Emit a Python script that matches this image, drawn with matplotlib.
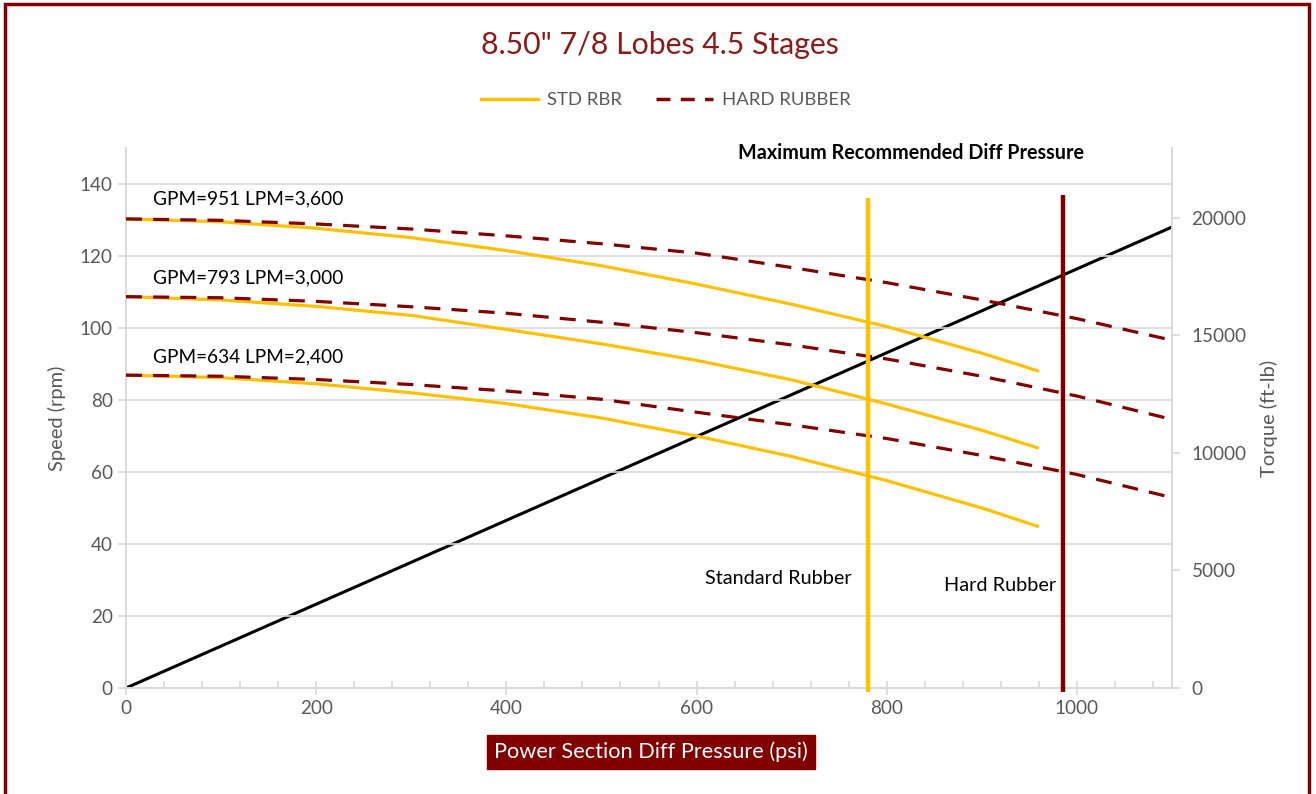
import matplotlib
matplotlib.use("Agg")
import matplotlib.pyplot as plt
from matplotlib.patches import Rectangle
from matplotlib.ticker import MultipleLocator
from matplotlib.lines import Line2D

plt.rcParams['font.family'] = ['Lato', 'DejaVu Sans']

# ---- data ----
std_psi = [0, 100, 200, 300, 400, 500, 600, 700, 800, 900, 960]
std_951 = [130.3, 129.5, 127.7, 125.1, 121.5, 117.3, 112.2, 106.6, 100.4, 93.0, 88.0]
std_793 = [108.7, 107.8, 106.0, 103.5, 99.6, 95.6, 91.0, 85.6, 78.9, 71.6, 66.6]
std_634 = [86.9, 86.2, 84.5, 82.0, 79.0, 75.0, 70.0, 64.3, 57.6, 50.0, 44.8]

hard_psi = [0, 100, 200, 300, 400, 500, 600, 700, 800, 900, 1000, 1100]
hard_951 = [130.3, 129.9, 128.9, 127.5, 125.6, 123.4, 120.8, 116.8, 112.6, 107.8, 102.6, 96.6]
hard_793 = [108.7, 108.4, 107.4, 105.9, 104.1, 101.6, 98.7, 95.3, 91.4, 86.6, 81.1, 74.6]
hard_634 = [86.9, 86.6, 85.7, 84.3, 82.5, 80.2, 76.6, 73.1, 69.3, 64.6, 59.3, 52.9]

torque_psi = [0, 1100]
torque_ftlb = [0, 19600]

max_std_psi = 780
max_hard_psi = 985
flow_labels = ["GPM=951 LPM=3,600", "GPM=793 LPM=3,000", "GPM=634 LPM=2,400"]
flow_label_y = [135.8, 113.9, 91.9]

YEL = '#FFC000'
RED = '#800000'
GRAY = '#595959'
GRID = '#D9D9D9'
TICK_FS = 13.6

fig = plt.figure(figsize=(13.16, 7.94), dpi=100)
W, H = 1316, 794

# outer border
fig.patches.append(Rectangle((5 / W, -0.05), (1309 - 5) / W, 1.05 - 4 / H,
                             transform=fig.transFigure, fill=False,
                             edgecolor=RED, linewidth=2.5))

ax = fig.add_axes([126 / W, 1 - 688 / H, (1172 - 126) / W, (688 - 148) / H])
ax2 = ax.twinx()

ax.set_xlim(0, 1100)
ax.set_ylim(0, 150)
ax2.set_ylim(0, 22960)

ax.set_zorder(ax2.get_zorder() + 1)
ax.patch.set_visible(False)

# gridlines
ax.yaxis.set_major_locator(MultipleLocator(20))
ax.grid(axis='y', color=GRID, linewidth=1.2)
ax.set_axisbelow(True)

# curves
for ys in (std_951, std_793, std_634):
    ax.plot(std_psi, ys, color=YEL, linewidth=2.3, solid_capstyle='butt', zorder=3)
for ys in (hard_951, hard_793, hard_634):
    ax.plot(hard_psi, ys, color=RED, linewidth=2.3, linestyle=(0, (5, 3.5)), zorder=4)

# torque line on secondary axis
ax2.plot(torque_psi, torque_ftlb, color='black', linewidth=2.2, zorder=2)

# max pressure vertical lines
ax.plot([max_std_psi, max_std_psi], [-1.2, 136], color=YEL, linewidth=3.2,
        clip_on=False, zorder=5, solid_capstyle='butt')
ax.plot([max_hard_psi, max_hard_psi], [-1.2, 137], color=RED, linewidth=3.2,
        clip_on=False, zorder=5, solid_capstyle='butt')

# text annotations
for lab, yv in zip(flow_labels, flow_label_y):
    ax.text(28, yv, lab, fontsize=13.7, color='black', va='center', ha='left')
ax.text(826, 148.6, "Maximum Recommended Diff Pressure", fontsize=14.2,
        fontweight='bold', color='black', ha='center', va='center')
ax.text(763, 30.3, "Standard Rubber", fontsize=14.3, color='black', ha='right', va='center')
ax.text(978, 28.6, "Hard Rubber", fontsize=14.3, color='black', ha='right', va='center')

# spines
ax.spines['top'].set_visible(False)
ax2.spines['top'].set_visible(False)
for s in ('left', 'bottom', 'right'):
    for a in (ax, ax2):
        a.spines[s].set_color(GRID)
        a.spines[s].set_linewidth(1.2)

# ticks
ax.xaxis.set_major_locator(MultipleLocator(200))
ax.xaxis.set_minor_locator(MultipleLocator(40))
ax.tick_params(axis='x', which='major', direction='inout', length=10, color=GRID,
               labelcolor=GRAY, labelsize=TICK_FS, width=1.2, pad=4)
ax.tick_params(axis='x', which='minor', direction='in', length=5, color=GRID, width=1.2)
ax.tick_params(axis='y', which='major', direction='out', length=6, color=GRID,
               labelcolor=GRAY, labelsize=TICK_FS, width=1.2)
ax2.yaxis.set_major_locator(MultipleLocator(5000))
ax2.tick_params(axis='y', which='major', direction='out', length=6, color=GRID,
                labelcolor=GRAY, labelsize=TICK_FS, width=1.2, pad=8)

ax.set_ylabel("Speed (rpm)", color=GRAY, fontsize=14.5, labelpad=10)
ax2.set_ylabel("Torque (ft-lb)", color=GRAY, fontsize=14.5, labelpad=10)

# x label in a dark red box
fig.text(651 / W, 1 - 752 / H, "Power Section Diff Pressure (psi)", color='white',
         fontsize=15.7, ha='center', va='center',
         bbox=dict(boxstyle='square,pad=0.32', facecolor=RED, edgecolor=RED))

# title
fig.text(660 / W, 1 - 45 / H, '8.50" 7/8 Lobes 4.5 Stages', color='#8B1A1A',
         fontsize=21.8, ha='center', va='center')

# legend
handles = [Line2D([], [], color=YEL, linewidth=2.5),
           Line2D([], [], color=RED, linewidth=2.5, linestyle=(0, (4, 3)))]
leg = fig.legend(handles, ["STD RBR", "HARD RUBBER"], loc='center',
                 bbox_to_anchor=(666 / W, 1 - 100 / H), ncol=2, frameon=False,
                 fontsize=13.3, handlelength=3.1, handletextpad=0.5, columnspacing=1.8)
for t in leg.get_texts():
    t.set_color(GRAY)

fig.savefig("out.png", dpi=100)
